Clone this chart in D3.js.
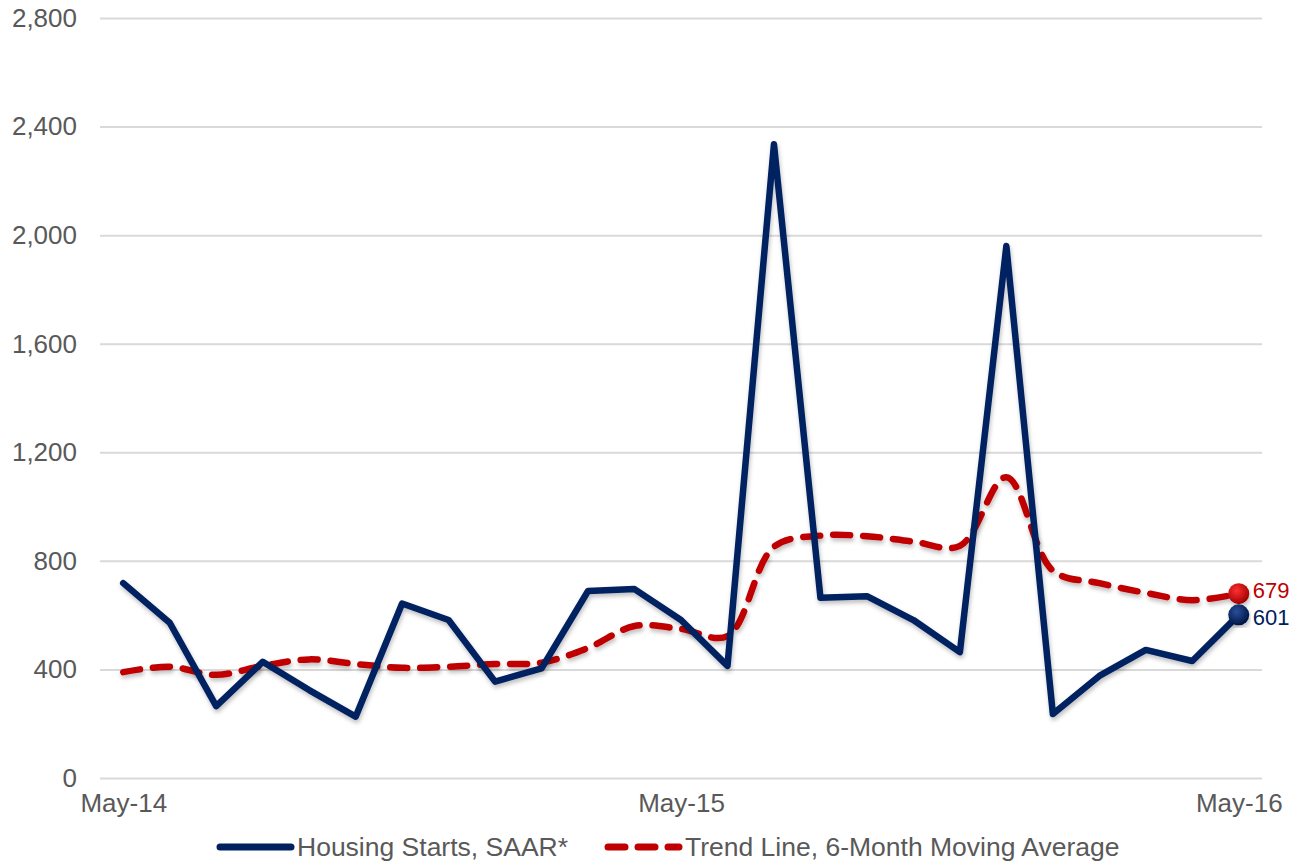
<!DOCTYPE html>
<html>
<head>
<meta charset="utf-8">
<script src="https://cdn.jsdelivr.net/npm/d3@7"></script>
<style>
  body { margin: 0; background: #fff; }
  text { font-family: "Liberation Sans", Arial, sans-serif; }
</style>
</head>
<body>
<script>
// months on the x axis
let months = ["May-14","Jun-14","Jul-14","Aug-14","Sep-14","Oct-14","Nov-14","Dec-14",
  "Jan-15","Feb-15","Mar-15","Apr-15","May-15","Jun-15","Jul-15","Aug-15","Sep-15",
  "Oct-15","Nov-15","Dec-15","Jan-16","Feb-16","Mar-16","Apr-16","May-16"]
let shownMonths = ["May-14", "May-15", "May-16"]

// housing starts, SAAR
let starts = [718, 572, 265, 428, 324, 226, 643, 582, 355, 404, 689, 696, 582,
  413, 2335, 664, 670, 582, 464, 1960, 236, 376, 472, 431, 601]
// 6-month moving average
let trend = [390, 410, 380, 413, 437, 420, 406, 410, 420, 425, 479, 560, 549,
  523, 852, 893, 891, 871, 855, 1108, 764, 718, 682, 655, 679]

let yTicks = [0, 400, 800, 1200, 1600, 2000, 2400, 2800]

let width = 1305
let height = 865
let margin = {top: 18, right: 43, bottom: 87, left: 100}

let svg = d3.select("body").append("svg")
    .attr("width", width)
    .attr("height", height)

let defs = svg.append("defs")
let shadow = defs.append("filter").attr("id", "shadow")
    .attr("x", "-5%").attr("y", "-5%").attr("width", "110%").attr("height", "115%")
shadow.append("feDropShadow")
    .attr("dx", 1).attr("dy", 3).attr("stdDeviation", 2)
    .attr("flood-color", "#000").attr("flood-opacity", 0.25)

function ball(id, light, dark) {
  let g = defs.append("radialGradient").attr("id", id)
      .attr("cx", "40%").attr("cy", "35%").attr("r", "65%")
  g.append("stop").attr("offset", "0%").attr("stop-color", light)
  g.append("stop").attr("offset", "100%").attr("stop-color", dark)
}
ball("redBall", "#ff3030", "#a00000")
ball("blueBall", "#2a4f9a", "#001545")

let x = d3.scalePoint()
    .domain(months)
    .range([margin.left, width - margin.right])
    .padding(0.5)

let y = d3.scaleLinear()
    .domain([0, 2800])
    .range([height - margin.bottom, margin.top])

// gridlines + y labels
let yAxis = svg.append("g")
    .attr("transform", `translate(${margin.left},0)`)
    .call(d3.axisLeft(y).tickValues(yTicks).tickFormat(d3.format(","))
      .tickSize(-(width - margin.left - margin.right)).tickPadding(23))
yAxis.select(".domain").remove()
yAxis.selectAll(".tick line").attr("stroke", "#d9d9d9").attr("stroke-width", 2)
yAxis.selectAll(".tick text")
    .attr("fill", "#595959").style("font-size", "26px")

// x labels
let xAxis = svg.append("g")
    .attr("transform", `translate(0,${height - margin.bottom})`)
    .call(d3.axisBottom(x).tickValues(shownMonths).tickSize(0).tickPadding(16))
xAxis.select(".domain").remove()
xAxis.selectAll(".tick text")
    .attr("fill", "#595959").style("font-size", "26px")

let blueLine = d3.line()
    .x((d, i) => x(months[i]))
    .y(d => y(d))

let redLine = d3.line()
    .x((d, i) => x(months[i]))
    .y(d => y(d))
    .curve(d3.curveCatmullRom.alpha(0.5))

svg.append("path")
    .datum(trend)
    .attr("d", redLine)
    .attr("fill", "none")
    .attr("stroke", "#c00000")
    .attr("stroke-width", 6.5)
    .attr("stroke-dasharray", "17,13")
    .attr("stroke-linecap", "round")
    .attr("filter", "url(#shadow)")

svg.append("path")
    .datum(starts)
    .attr("d", blueLine)
    .attr("fill", "none")
    .attr("stroke", "#002060")
    .attr("stroke-width", 6.5)
    .attr("stroke-linejoin", "round")
    .attr("stroke-linecap", "round")
    .attr("filter", "url(#shadow)")

// end markers
let last = months.length - 1
let ends = [
  {v: trend[last], fill: "url(#redBall)", color: "#c00000", dy: -3},
  {v: starts[last], fill: "url(#blueBall)", color: "#002060", dy: 2}
]
svg.selectAll("circle.end")
    .data(ends).enter()
    .append("circle")
    .attr("class", "end")
    .attr("cx", x(months[last]))
    .attr("cy", d => y(d.v))
    .attr("r", 10.5)
    .attr("fill", d => d.fill)
    .attr("filter", "url(#shadow)")
svg.selectAll("text.endlabel")
    .data(ends).enter()
    .append("text")
    .attr("class", "endlabel")
    .attr("x", x(months[last]) + 14)
    .attr("y", d => y(d.v) + d.dy)
    .attr("dy", "0.35em")
    .attr("fill", d => d.color)
    .style("font-size", "22px")
    .text(d => d.v)

// legend
let legend = [
  {label: "Housing Starts, SAAR*", color: "#002060", dash: null, x: 220},
  {label: "Trend Line, 6-Month Moving Average", color: "#c00000", dash: "17,13", x: 608}
]
let lg = svg.selectAll("g.legend")
    .data(legend).enter()
    .append("g")
    .attr("class", "legend")
    .attr("transform", d => `translate(${d.x},847)`)
lg.append("line")
    .attr("x1", 0).attr("x2", 71)
    .attr("stroke", d => d.color)
    .attr("stroke-width", 7)
    .attr("stroke-linecap", "round")
    .attr("stroke-dasharray", d => d.dash)
lg.append("text")
    .attr("x", 77)
    .attr("dy", "0.35em")
    .attr("fill", "#595959")
    .style("font-size", "26.5px")
    .text(d => d.label)
</script>
</body>
</html>
